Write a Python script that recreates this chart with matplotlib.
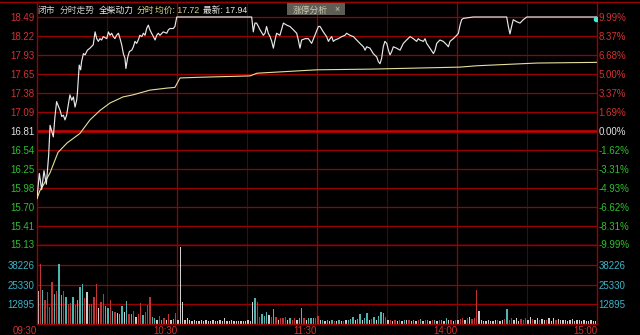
import numpy as np
import matplotlib
matplotlib.use("Agg")
import matplotlib.pyplot as plt
from matplotlib.patches import FancyBboxPatch
from matplotlib.lines import Line2D

plt.rcParams['font.family'] = ['Liberation Sans', 'Noto Sans CJK SC']

# left price labels (top -> bottom) and right percent labels
price_labels = ['18.49', '18.22', '17.93', '17.65', '17.38', '17.09', '16.81',
                '16.54', '16.25', '15.98', '15.70', '15.41', '15.13']
pct_labels = ['9.99%', '8.37%', '6.68%', '5.00%', '3.37%', '1.69%', '0.00%',
              '-1.62%', '-3.31%', '-4.93%', '-6.62%', '-8.31%', '-9.99%']
vol_ticks = [12895, 25330, 38226]
time_ticks = [0, 60, 120, 180, 240]
time_labels = ['09:30', '10:30', '11:30', '14:00', '15:00']

# price line, sampled (minute index, price)
price_min = [0, 1, 2, 3, 4, 5, 5.6, 7, 7.7, 8.4, 9.9, 10.6, 11.3, 12, 12.7, 13.4,
             14.1, 14.9, 15.6, 16.3, 17, 17.3, 17.7, 18.1, 18.7, 19.1, 19.9, 20.6,
             21.6, 22.7, 24.1, 24.9, 25.6, 26.3, 27, 27.7, 28.4, 29.9, 30.6, 31.3,
             32, 32.7, 33.4, 34.1, 34.9, 35.6, 36.3, 37, 37.7, 38.1, 38.9, 39.6,
             40.6, 41.3, 42, 42.7, 43.4, 44.1, 44.9, 45.6, 46.3, 47, 47.7, 48.4,
             49.1, 49.9, 50.6, 51.3, 52, 52.7, 54.1, 55.6, 56.3, 57, 58.4, 59.1,
             59.9, 92, 92.7, 93.4, 94.1, 94.9, 95.6, 97, 97.7, 98.4, 99.1, 99.9,
             100.6, 101.3, 102, 102.7, 104.1, 105.6, 107, 108.4, 109.9, 111.3, 112,
             112.7, 113.4, 114.9, 116.3, 117.7, 119.1, 120.6, 121.3, 122.7, 124.1,
             124.9, 125.6, 126.3, 127, 127.7, 129.1, 130.6, 132, 132.7, 134.1,
             135.6, 137, 138.4, 139.9, 140.6, 141.3, 142.7, 144.1, 145.6, 146.3,
             147, 147.7, 148.4, 149.1, 149.9, 150.6, 151.3, 152, 152.7, 154.1,
             155.6, 157, 158.4, 159.9, 161.3, 162.7, 163.4, 164.1, 165.6, 166.3,
             167, 168.4, 169.9, 170.6, 171.3, 172.7, 174.1, 175.6, 176.3, 177,
             178.4, 179.9, 180.6, 181.3, 182, 182.7, 187, 201.3, 202, 202.7, 203.4,
             204.1, 205.6, 207, 208.4, 209.9, 240]
price_val = [15.81, 16.18, 15.94, 16.22, 16.02, 16.45, 16.89, 16.72, 17.02, 17.24,
             17.11, 17.02, 17.04, 16.97, 17.04, 17.19, 17.34, 17.26, 17.31, 17.16,
             17.26, 17.36, 17.56, 17.78, 17.71, 17.83, 17.95, 17.93, 18.00, 18.03,
             18.08, 18.27, 18.17, 18.13, 18.17, 18.15, 18.20, 18.17, 18.27, 18.22,
             18.25, 18.20, 18.17, 18.22, 18.25, 18.17, 18.08, 17.95, 17.88, 17.73,
             17.90, 17.98, 18.00, 18.05, 18.13, 18.10, 18.15, 18.22, 18.20, 18.25,
             18.22, 18.32, 18.37, 18.30, 18.25, 18.20, 18.15, 18.22, 18.25, 18.22,
             18.27, 18.25, 18.30, 18.32, 18.32, 18.35, 18.49, 18.49, 18.27, 18.40,
             18.40, 18.35, 18.30, 18.22, 18.25, 18.35, 18.25, 18.20, 18.13, 18.03,
             18.15, 18.25, 18.22, 18.40, 18.37, 18.35, 18.30, 18.25, 18.15, 18.03,
             18.15, 18.17, 18.17, 18.10, 18.22, 18.35, 18.35, 18.27, 18.20, 18.13,
             18.17, 18.20, 18.13, 18.15, 18.17, 18.20, 18.22, 18.25, 18.22, 18.20,
             18.15, 18.10, 18.05, 18.00, 18.05, 18.03, 17.95, 17.90, 17.83, 17.80,
             17.88, 18.05, 18.13, 18.10, 18.00, 17.93, 17.98, 18.05, 18.03, 18.00,
             18.10, 18.15, 18.20, 18.17, 18.13, 18.17, 18.15, 18.13, 18.17, 18.10,
             18.03, 17.95, 18.00, 18.10, 18.15, 18.13, 18.08, 18.05, 18.13, 18.17,
             18.22, 18.25, 18.37, 18.45, 18.47, 18.49, 18.49, 18.35, 18.24, 18.35,
             18.45, 18.42, 18.40, 18.45, 18.49, 18.49]

# average price line
avg_min = [0, 1.3, 2.6, 5.6, 9, 12.9, 18.4, 22.7, 27, 31.3, 36.9, 41.1, 48.4, 55.7,
           59.1, 61.3, 69.9, 91.3, 94.3, 120, 142.7, 181.3, 188.6, 214.3, 240]
avg_val = [15.81, 15.93, 16.00, 16.19, 16.49, 16.63, 16.77, 16.97, 17.11, 17.22,
           17.31, 17.34, 17.41, 17.44, 17.45, 17.59, 17.60, 17.62, 17.66, 17.71,
           17.72, 17.75, 17.77, 17.81, 17.82]

# per-minute volume
volume = [21300, 39000, 21700, 15200, 20600, 10800, 26700, 19500, 21300, 38600,
          18400, 21300, 17400, 13000, 13500, 17400, 12000, 15600, 23900, 25400,
          16300, 20200, 13000, 13000, 17400, 26000, 9800, 14100, 19500, 11300,
          9800, 15600, 8200, 7600, 6900, 6500, 11300, 7600, 14800, 6500,
          6100, 8200, 4300, 6100, 13500, 5400, 7600, 12000, 17400, 4300,
          3900, 2600, 4800, 2200, 3900, 2600, 6500, 2200, 3000, 6900,
          2600, 49700, 14100, 2600, 3300, 2000, 1700, 2200, 1500, 1800,
          2000, 1600, 2300, 1900, 1500, 2100, 1700, 1800, 2000, 1600,
          3300, 1800, 1500, 2000, 1700, 1600, 1800, 1500, 1900, 1700,
          2000, 1800, 13700, 16900, 13700, 4300, 6100, 4800, 7600, 5400,
          4300, 9300, 4300, 2200, 3300, 3900, 4300, 2200, 3900, 2600,
          3900, 2600, 3900, 9800, 3900, 2600, 3300, 3900, 3900, 3300,
          4800, 2000, 2600, 1500, 2200, 1700, 2400, 1900, 1500, 2200,
          1800, 1600, 2000, 2400, 2800, 4100, 2200, 3000, 6300, 2600,
          3900, 6700, 2200, 3000, 4300, 2600, 5200, 7400, 6800, 4300,
          2400, 2000, 1700, 2200, 1800, 2400, 1700, 2200, 2000, 2600,
          1800, 2400, 1700, 2000, 2800, 1800, 2200, 2400, 1900, 2200,
          2600, 1700, 2000, 2400, 1800, 3900, 2000, 2200, 1700, 2400,
          2000, 2800, 3500, 2600, 3900, 4300, 3000, 3500, 21500, 8000,
          2400, 1900, 1600, 2000, 1700, 1500, 2000, 2400, 1800, 2200,
          3000, 9500, 2600, 3500, 2200, 3900, 1800, 3000, 2600, 3500,
          2400, 4300, 3000, 2400, 3500, 2600, 3000, 2200, 2600, 3900,
          1800, 3500, 2400, 3000, 2200, 2000, 2600, 1700, 2400, 3000,
          1800, 2600, 2200, 1600, 2000, 1800, 1500, 2000, 1600, 1400,
          3300]
vol_dir = ("wrcrrrrcrc" "crcrrcrccc" "rwrrrrwrrc" "crcrwccwcr" "crwrrcrrrc"
           "cwrcrwrwcr" "wwwwwwwwww" "wwwwwwwwww" "wwwwwwwwww" "wwwcrrcccw"
           "rcrwrrrwcr" "rwccrwcccr" "rwcwcwcrwc" "wrwcccwccw" "ccwrcwcccr"
           "wrwrwrwcwr" "wcwrcwrcwr" "cwrcwcwrwr" "wrrwrwrrrw" "wwwwwwwrww"
           "rcrrwwwrrr" "wwrwwrwwrw" "wwrwwwwwww" "wwwwwwwwww" "w")

RED = '#d23232'
GREEN = '#2fc02f'
CYAN = '#3cb4c8'
GRID = '#9a0000'
GRID_DIM = '#5a0000'
bar_cols = {'r': '#c03434', 'c': '#4fb3b0', 'w': '#cfcfcf'}

fig = plt.figure(figsize=(6.4, 3.35), dpi=100, facecolor='black')
ax = fig.add_axes([37 / 640, 90.5 / 335, 560 / 640, 242.5 / 335], facecolor='black')
axv = fig.add_axes([37 / 640, 11.5 / 335, 560 / 640, 79 / 335], facecolor='black')

# top frame line runs across the whole window
fig.add_artist(Line2D([0, 1], [1 - 2 / 335, 1 - 2 / 335], color=GRID, lw=1.0,
                      transform=fig.transFigure))

grid_pos = np.linspace(18.49, 15.13, 13)
for a in (ax, axv):
    a.set_xlim(0, 240)
    for s in a.spines.values():
        s.set_color(GRID)
        s.set_linewidth(1.0)
    for m in [30, 90, 150, 210]:
        a.axvline(m, color=GRID_DIM, lw=0.8, zorder=0)
    for m in [60, 120, 180]:
        a.axvline(m, color=GRID, lw=0.9, zorder=0)

ax.set_ylim(15.13, 18.7115)
for i, p in enumerate(grid_pos):
    if i == 6:
        ax.axhline(p, color='#d00000', lw=1.8, zorder=0)
    else:
        ax.axhline(p, color=GRID, lw=0.9, zorder=0)

ax.plot(avg_min, avg_val, color='#e3e09a', lw=0.8, zorder=3)
ax.plot(price_min, price_val, color='#e8e8e8', lw=0.85, zorder=4)
ax.plot([239.4], [18.465], 'o', color='#40e8d8', ms=3, zorder=5)

ax.set_xticks([])
ax.set_yticks(grid_pos)
ax.set_yticklabels(price_labels)
ax.tick_params(axis='y', length=0, pad=2, labelsize=7)
for i, t in enumerate(ax.get_yticklabels()):
    t.set_color(RED if i < 6 else ('#e0e0e0' if i == 6 else GREEN))

ax2 = ax.twinx()
ax2.set_ylim(ax.get_ylim())
ax2.set_yticks(grid_pos)
ax2.set_yticklabels(pct_labels)
ax2.tick_params(axis='y', length=0, pad=1, labelsize=7)
for s in ax2.spines.values():
    s.set_visible(False)
for i, t in enumerate(ax2.get_yticklabels()):
    t.set_color(RED if i < 6 else ('#e0e0e0' if i == 6 else GREEN))

# volume panel
mins = np.arange(len(volume))
axv.bar(mins + 0.4, volume, width=0.5, color=[bar_cols[c] for c in vol_dir], zorder=2)
axv.set_ylim(0, 51430)
for v in vol_ticks:
    axv.axhline(v, color=GRID, lw=0.9, zorder=0)
axv.set_yticks(vol_ticks)
axv.set_yticklabels([str(v) for v in vol_ticks])
axv.tick_params(axis='y', length=0, pad=2, labelsize=7, labelcolor=CYAN)
axv3 = axv.twinx()
axv3.set_ylim(axv.get_ylim())
axv3.set_yticks(vol_ticks)
axv3.set_yticklabels([str(v) for v in vol_ticks])
axv3.tick_params(axis='y', length=0, pad=1, labelsize=7, labelcolor=CYAN)
for s in axv3.spines.values():
    s.set_visible(False)

axv.set_xticks(time_ticks)
axv.set_xticklabels(time_labels, ha='right')
axv.tick_params(axis='x', length=0, pad=1.5, labelsize=7, labelcolor=RED)

# header strip
hy = 1 - 10 / 335
fig.text(37 / 640, hy, '闭市', color='#d8d8d8', fontsize=6.3, va='center')
fig.text(60 / 640, hy, '分时走势', color='#c8c8c8', fontsize=6.3, va='center')
fig.text(99 / 640, hy, '全柴动力', color='#e8e8e8', fontsize=6.3, va='center')
fig.text(137 / 640, hy, '分时', color='#d8d48a', fontsize=6.3, va='center')
fig.text(155 / 640, hy, '均价: 17.72', color='#d8d48a', fontsize=6.3, va='center')
fig.text(203 / 640, hy, '最新: 17.94', color='#e8e8e8', fontsize=6.3, va='center')
fig.patches.append(FancyBboxPatch((287 / 640, 1 - 15 / 335), 58 / 640, 12 / 335,
                                  boxstyle='square,pad=0', transform=fig.transFigure,
                                  facecolor='#5e5e56', edgecolor='none', zorder=5))
fig.text(293 / 640, hy, '涨停分析', color='#c8c8b0', fontsize=6.3, va='center', zorder=6)
fig.text(334 / 640, hy, '×', color='#c8c8b0', fontsize=6.3, va='center', zorder=6)

fig.savefig('out.png', dpi=100, facecolor='black')
